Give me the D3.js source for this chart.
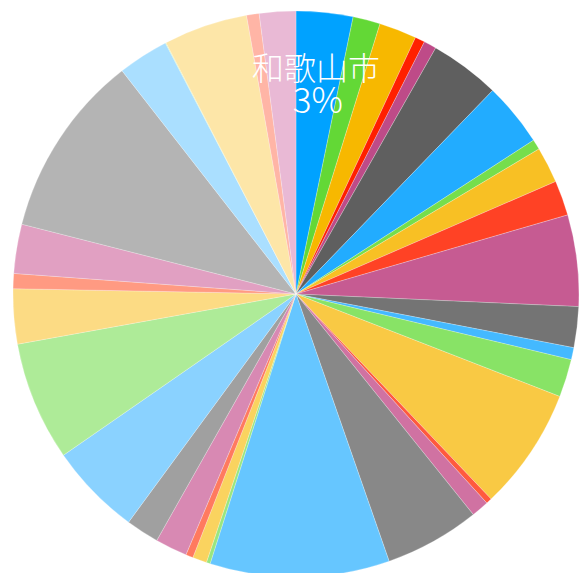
<!DOCTYPE html>
<html>
<head>
<meta charset="utf-8">
<script src="https://cdn.jsdelivr.net/npm/d3@7"></script>
<style>
  html, body { margin: 0; padding: 0; background: #ffffff; }
  svg { display: block; }
</style>
</head>
<body>
<div id="chart"></div>
<script>
// Share of each category, in percent, drawn clockwise from 12 o'clock
const categories = [
  "和歌山市", "項目02", "項目03", "項目04", "項目05", "項目06", "項目07",
  "項目08", "項目09", "項目10", "項目11", "項目12", "項目13", "項目14",
  "項目15", "項目16", "項目17", "項目18", "項目19", "項目20", "項目21",
  "項目22", "項目23", "項目24", "項目25", "項目26", "項目27", "項目28",
  "項目29", "項目30", "項目31", "項目32", "項目33", "項目34", "項目35"
];
const values = [
  3.24, 1.56, 2.14, 0.56, 0.72, 4.01, 3.63,
  0.58, 2.06, 2.00, 5.22, 2.33, 0.69, 2.17,
  7.00, 0.33, 1.00, 5.44, 10.25, 0.22, 0.81,
  0.42, 1.83, 1.89, 5.28, 6.81, 3.14, 0.86,
  2.81, 10.50, 2.90, 0.04, 4.80, 0.72, 2.08
];
const colors = [
  "#00a2ff", "#63d836", "#f7b800", "#ff2000", "#be4b88", "#5f5f5f",
  "#22acff", "#76de4c", "#f8c024", "#ff4225", "#c65b92", "#747474",
  "#44b9ff", "#88e366", "#f9c944", "#ff5a3e", "#d072a2", "#888888",
  "#66c6ff", "#99e680", "#fad35f", "#ff7a5f", "#d889b3", "#a0a0a0",
  "#8ad2ff", "#aeeb98", "#fcdb84", "#ff9a82", "#e1a0c2", "#b4b4b4",
  "#aadfff", "#c4f0b2", "#fde6a8", "#ffb5a6", "#e9b9d5"
];
// Only the first slice carries a label
const labelIndex = 0;

const width = 582, height = 573;
const cx = 296, cy = 294, radius = 283;

const data = categories.map((c, i) => ({ name: c, value: values[i], color: colors[i] }));

const svg = d3.select("#chart").append("svg")
  .attr("width", width).attr("height", height);

const g = svg.append("g").attr("transform", `translate(${cx},${cy})`);

const pie = d3.pie().sort(null).value(d => d.value);
const arc = d3.arc().innerRadius(0).outerRadius(radius);
const labelArc = d3.arc().innerRadius(radius * 0.745).outerRadius(radius * 0.745);

const arcs = pie(data);

g.selectAll("path.slice")
  .data(arcs)
  .join("path")
  .attr("class", "slice")
  .attr("d", arc)
  .attr("fill", d => d.data.color)
  .attr("stroke", "#ffffff")
  .attr("stroke-width", 0.4)
  .attr("stroke-opacity", 0.6);

const la = arcs[labelIndex];
const [lx, ly] = labelArc.centroid(la);
const pct = Math.round(la.data.value / d3.sum(values) * 100);

const labelStyle = sel => sel
  .attr("text-anchor", "middle")
  .attr("fill", "#ffffff")
  .style("font-family", "'Noto Sans CJK JP', 'Noto Sans', sans-serif")
  .style("font-weight", 300);

g.append("text")
  .call(labelStyle)
  .style("font-size", "32px")
  .attr("x", lx - 1.5)
  .attr("y", ly - 4)
  .text(la.data.name);

g.append("text")
  .call(labelStyle)
  .style("font-size", "35px")
  .attr("x", lx + 0.5)
  .attr("y", ly + 29)
  .text(pct + "%");
</script>
</body>
</html>
